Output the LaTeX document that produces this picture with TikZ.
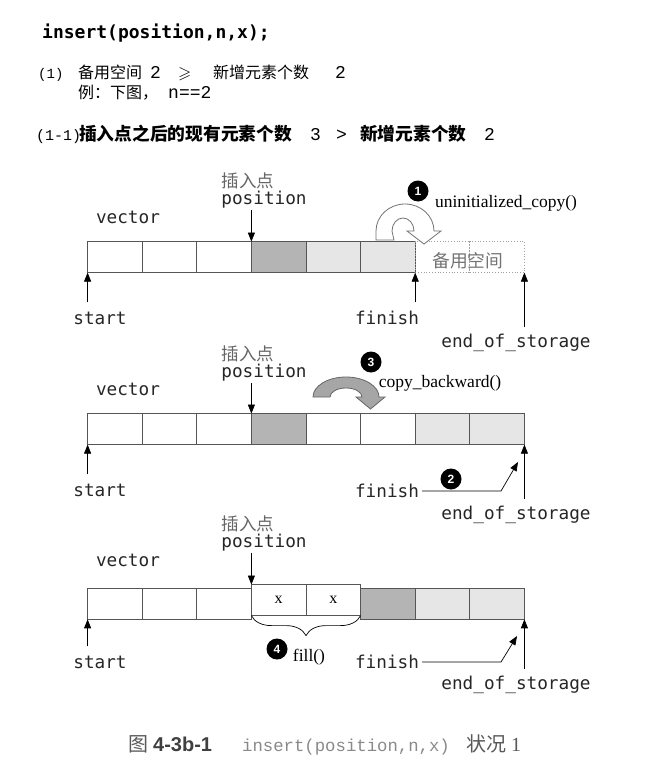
\documentclass[tikz,border=0pt]{standalone}
\usepackage{amssymb}
\usepackage{fontspec}
\setmainfont{Liberation Serif}
\newfontfamily\cnfont{Noto Sans CJK SC}
\newfontfamily\lblfont{DejaVu Sans Mono}
\newfontfamily\codefont{Liberation Mono}
\newfontfamily\capfont{Liberation Sans}
\usetikzlibrary{matrix,positioning,decorations.pathreplacing,arrows.meta}
\newcommand{\fsz}[1]{\fontsize{#1}{#1}\selectfont}

\definecolor{cellline}{HTML}{555555}
\definecolor{darkcell}{HTML}{B4B4B4}
\definecolor{lightcell}{HTML}{E6E6E6}
\definecolor{spareline}{HTML}{A0A0A0}
\definecolor{labelgray}{HTML}{666666}
\definecolor{capgray}{HTML}{8A8A8A}

\tikzset{
  cell/.style={draw=cellline, line width=0.8pt, minimum width=54.6pt,
    minimum height=31pt, inner sep=0pt, outer sep=0pt, font=\fsz{16}},
  darkbox/.style={cell, fill=darkcell},
  lightbox/.style={cell, fill=lightcell},
  sparebox/.style={cell, draw=spareline, dotted},
  lbl/.style={inner sep=0pt, text=black!85, font=\lblfont\fsz{17.7}},
  cnlbl/.style={inner sep=0pt, text=labelgray, font=\cnfont\fsz{17.5}},
  fn/.style={inner sep=0pt, font=\fsz{17.5}},
  num/.style={circle, fill=black, text=white, minimum size=21pt,
    inner sep=0pt, font=\capfont\bfseries\fsz{12}},
  ptr/.style={-{Triangle[length=9pt,width=7pt]}, line width=0.7pt},
  hd/.style={anchor=base west, inner sep=0pt}
}

\begin{document}
\begin{tikzpicture}[x=1pt,y=-1pt]
  \path[use as bounding box, fill=white] (0,0) rectangle (654,773);

  % heading
  \node[hd, font=\lblfont\bfseries\fsz{18}] (call) at (42,38.5)
       {insert(position,n,x);};

  \node[hd, font=\codefont\fsz{14}] (c1) at (38,79) {(1)};
  \node[hd, font=\cnfont\fsz{16}] (c1spare) at (78,79) {备用空间};
  \node[hd, font=\codefont\fsz{18}] (c1a) at (150,79) {2};
  \node[hd, font=\fsz{17}] (c1ge) at (178,79) {$\geqslant$};
  \node[hd, font=\cnfont\fsz{16}] (c1new) at (213,79) {新增元素个数};
  \node[hd, font=\codefont\fsz{18}] (c1b) at (335,79) {2};

  \node[hd, font=\cnfont\fsz{16}] (ex) at (78,99) {例：下图，};
  \node[hd, font=\codefont\fsz{18}] (exn) at (168,99) {n==2};

  \node[hd, font=\codefont\fsz{15}] (c11) at (36,140) {(1-1)};
  \node[hd, font=\cnfont\bfseries\fsz{17.75}] (c11after) at (79,140)
       {插入点之后的现有元素个数};
  \node[hd, font=\codefont\fsz{18}] (c11a) at (310,140) {3};
  \node[hd, font=\codefont\fsz{18}] (c11gt) at (336,140) {>};
  \node[hd, font=\cnfont\bfseries\fsz{17.75}] (c11new) at (360,140)
       {新增元素个数};
  \node[hd, font=\codefont\fsz{18}] (c11b) at (484,140) {2};

  % step 1: uninitialized_copy
  \matrix (v1) [matrix of nodes, nodes in empty cells, nodes={cell},
                column sep=-0.8pt, inner sep=0pt, anchor=north west] at (87,241)
          {
            & & & |[darkbox]| & |[lightbox]| & |[lightbox]| & |[sparebox]| & |[sparebox]| \\
          };

          \node[cnlbl, text=black!55, font=\cnfont\fsz{17.75}] (spare)
                at ([xshift=-2pt,yshift=-4pt]v1-1-7.east) {备用空间};
          \node[lbl] (vec1) at (128,217) {vector};
          \node[lbl] (pos1) at (264,200) {position};
          \node[cnlbl, above=2pt of pos1, xshift=-16pt] (ins1) {插入点};
          \draw[ptr, shorten <=1pt] (pos1.south -| v1-1-4.north west) -- (v1-1-4.north west);
          \node[lbl] (st1) at (100,318) {start};
          \draw[ptr, shorten <=9pt] (st1.north -| v1-1-1.south west) -- (v1-1-1.south west);
          \node[lbl] (fin1) at (387,318) {finish};
          \draw[ptr, shorten <=9pt] (fin1.north -| v1-1-6.south east) -- (v1-1-6.south east);
          \node[lbl] (eos1) at (516,343) {end\_of\_storage};
          \draw[ptr, shorten <=7pt] (eos1.north -| v1-1-8.south east) -- (v1-1-8.south east);

  \draw[line width=0.8pt, draw=black!55, fill=white]
    (376,240) -- (376,231) arc[start angle=180, end angle=360, x radius=29, y radius=27]
    -- (441,231) -- (424,244) -- (407,231) -- (414,231)
    arc[start angle=360, end angle=180, x radius=11, y radius=13]
    -- (394,240) -- cycle;
  \node[num] (n1) at (418,191) {1};
  \node[fn] (ucopy) at (506,203) {uninitialized\_copy()};

  % step 2 and 3: copy_backward
  \matrix (v2) [matrix of nodes, nodes in empty cells, nodes={cell},
                column sep=-0.8pt, inner sep=0pt, anchor=north west] at (87,413)
          {
            & & & |[darkbox]| & & & |[lightbox]| & |[lightbox]| \\
          };

          \node[lbl] (vec2) at (128,389) {vector};
          \node[lbl] (pos2) at (264,373) {position};
          \node[cnlbl, above=2pt of pos2, xshift=-16pt] (ins2) {插入点};
          \draw[ptr, shorten <=1pt] (pos2.south -| v2-1-4.north west) -- (v2-1-4.north west);
          \node[lbl] (st2) at (100,490) {start};
          \draw[ptr, shorten <=9pt] (st2.north -| v2-1-1.south west) -- (v2-1-1.south west);
          \node[lbl] (fin2) at (387,491) {finish};
          \node[lbl] (eos2) at (516,515) {end\_of\_storage};
          \draw[ptr, shorten <=7pt] (eos2.north -| v2-1-8.south east) -- (v2-1-8.south east);

          \coordinate (tip2) at (518,462);
          \draw[ptr, shorten <=3pt] (fin2.east) -- ([xshift=-17pt]tip2 |- fin2.east) -- (tip2);
          \node[num] (n2) at (451,479) {2};

  \draw[line width=0.8pt, draw=black!60, fill=black!35]
    (313,397) arc[start angle=180, end angle=360, x radius=33, y radius=20]
    -- (385,397) -- (370.5,409) -- (356,397) -- (362,397)
    arc[start angle=360, end angle=180, x radius=16, y radius=9]
    -- cycle;
  \node[num] (n3) at (371,362) {3};
  \node[fn] (cback) at (440,383) {copy\_backward()};

  % step 4: fill
  \matrix (v3) [matrix of nodes, nodes in empty cells, nodes={cell},
                column sep=-0.8pt, inner sep=0pt, anchor=north west] at (87,584)
          {
            & & & x & x & |[darkbox]| & |[lightbox]| & |[lightbox]| \\
          };

          \node[lbl] (vec3) at (128,560) {vector};
          \node[lbl] (pos3) at (264,543) {position};
          \node[cnlbl, above=2pt of pos3, xshift=-16pt] (ins3) {插入点};
          \draw[ptr, shorten <=1pt] (pos3.south -| v3-1-4.north west) -- (v3-1-4.north west);
          \node[lbl] (st3) at (100,662) {start};
          \draw[ptr, shorten <=9pt] (st3.north -| v3-1-1.south west) -- (v3-1-1.south west);
          \node[lbl] (fin3) at (387,662) {finish};
          \node[lbl] (eos3) at (516,685) {end\_of\_storage};
          \draw[ptr, shorten <=7pt] (eos3.north -| v3-1-8.south east) -- (v3-1-8.south east);

          \coordinate (tip3) at (517,636);
          \draw[ptr, shorten <=3pt] (fin3.east) -- ([xshift=-16pt]tip3 |- fin3.east) -- (tip3);

          \draw[decorate, decoration={brace, mirror, amplitude=20pt}, line width=0.7pt]
            (v3-1-4.south west) -- (v3-1-5.south east);
          \node[num] (n4) at (277,649) {4};
          \node[fn] (fillop) at (309,657) {fill()};

  % caption
  \node[hd, font=\cnfont\fsz{20}, text=black!65] (fig) at (128,751) {图};
  \node[hd, font=\capfont\bfseries\fsz{20}, text=black!75] (fignum) at (153,751) {4-3b-1};
  \node[hd, font=\codefont\fsz{17.3}, text=capgray] (figcall) at (242,751)
       {insert(position,n,x)};
  \node[hd, font=\cnfont\fsz{20}, text=black!65] (figcase) at (466,751) {状况};
  \node[hd, font=\fsz{20}, text=black!65] (figone) at (511,751) {1};

\end{tikzpicture}
\end{document}
